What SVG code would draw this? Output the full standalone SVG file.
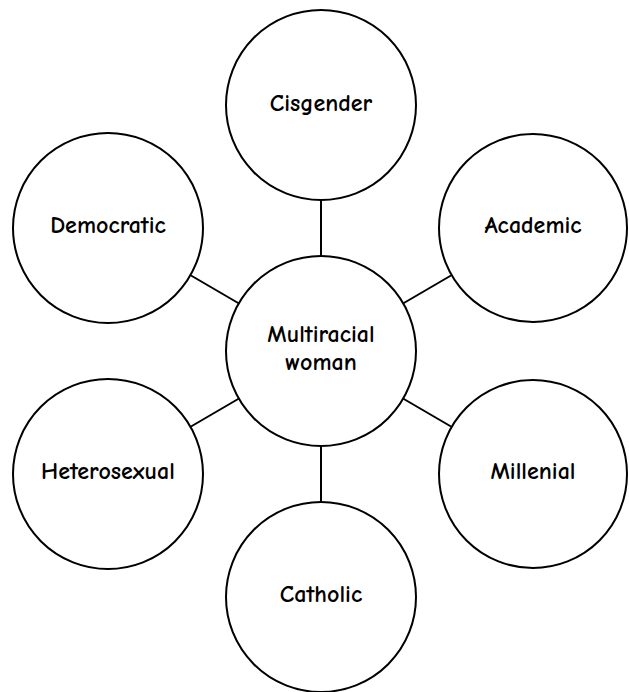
<svg xmlns="http://www.w3.org/2000/svg" width="629" height="692" viewBox="0 0 629 692">
<style>
.node{fill:#fff;stroke:#000;stroke-width:2}
.lbl{font-family:"Comic Neue","Liberation Sans","DejaVu Sans",sans-serif;font-size:24px;font-weight:bold;fill:#000;text-anchor:middle}
.conn line{stroke:#000;stroke-width:2}
</style>
<rect width="629" height="692" fill="#fff"/>
<g class="conn" id="connectors">
<line x1="321" y1="256" x2="321" y2="200"/>
<line x1="403" y1="303.5" x2="451" y2="275.5"/>
<line x1="403" y1="398.5" x2="451" y2="426.5"/>
<line x1="321" y1="446" x2="321" y2="502"/>
<line x1="239" y1="398.5" x2="191" y2="426.5"/>
<line x1="239" y1="303.5" x2="191" y2="275.5"/>
</g>
<g id="center"><circle class="node" cx="321" cy="351" r="95"/><text class="lbl" x="321" y="342">Multiracial</text><text class="lbl" x="321" y="370">woman</text></g>
<g id="cisgender"><circle class="node" cx="321" cy="105" r="95"/><text class="lbl" x="321" y="111">Cisgender</text></g>
<g id="academic"><circle class="node" cx="533" cy="228" r="94"/><text class="lbl" x="533" y="233">Academic</text></g>
<g id="millenial"><circle class="node" cx="533" cy="474" r="94"/><text class="lbl" x="533" y="479">Millenial</text></g>
<g id="catholic"><circle class="node" cx="321" cy="597" r="95"/><text class="lbl" x="321" y="602">Catholic</text></g>
<g id="heterosexual"><circle class="node" cx="108" cy="474" r="95"/><text class="lbl" x="108" y="479">Heterosexual</text></g>
<g id="democratic"><circle class="node" cx="108" cy="228" r="95"/><text class="lbl" x="108" y="233">Democratic</text></g>
</svg>
